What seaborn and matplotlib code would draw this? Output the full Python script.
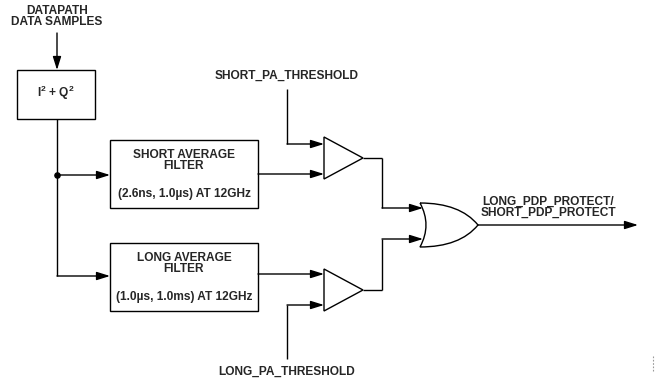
import numpy as np
import matplotlib
matplotlib.use("Agg")
import matplotlib.pyplot as plt
import seaborn as sns
from matplotlib.patches import Rectangle, Polygon, PathPatch
from matplotlib.path import Path

sns.set_style("white")
plt.rcParams['font.family'] = ['Liberation Sans', 'DejaVu Sans']
plt.rcParams['mathtext.fontset'] = 'custom'
plt.rcParams['mathtext.bf'] = 'Liberation Sans:bold'
plt.rcParams['mathtext.rm'] = 'Liberation Sans:bold'

# Text of the diagram
input_label = "DATAPATH\nDATA SAMPLES"
power_label = r"$\mathbf{I^2}$ + $\mathbf{Q^2}$"
filter_titles = ["SHORT AVERAGE\nFILTER", "LONG AVERAGE\nFILTER"]
filter_ranges = ["(2.6ns, 1.0\u00b5s) AT 12GHz", "(1.0\u00b5s, 1.0ms) AT 12GHz"]
threshold_labels = ["SHORT_PA_THRESHOLD", "LONG_PA_THRESHOLD"]
output_label = "LONG_PDP_PROTECT/\nSHORT_PDP_PROTECT"

# Layout (pixel coordinates, y down)
W, H = 655, 381
pw_box = (17, 70, 95, 119)
filt_boxes = [(110, 140, 258, 208), (110, 243, 258, 311)]
filt_in_y = [175, 276]
comps = [(324, 137, 363, 179), (324, 269, 363, 311)]
thr_x = 287
thr_y = [144, 305]
thr_end = [89, 359]
filt_out_y = [174, 274]
or_left, or_top, or_bot, or_tip = 420, 203, 247, 478
or_in_y = [208, 239]
out_x = 382

fig = plt.figure(figsize=(W / 100, H / 100), dpi=100)
ax = fig.add_axes([0, 0, 1, 1])
ax.set_xlim(0, W)
ax.set_ylim(H, 0)
ax.axis("off")

LW = 1.0
FS = 8.6


def line(xs, ys):
    ax.plot(xs, ys, color="black", lw=LW, solid_capstyle="butt",
            solid_joinstyle="miter")


def arrow(x0, y0, x1, y1):
    ax.annotate("", xy=(x1, y1), xytext=(x0, y0),
                arrowprops=dict(arrowstyle="-|>,head_length=0.8,head_width=0.25",
                                lw=LW, color="black", shrinkA=0, shrinkB=0,
                                mutation_scale=10))


def box(b):
    x0, y0, x1, y1 = b
    ax.add_patch(Rectangle((x0, y0), x1 - x0, y1 - y0, fill=False,
                           lw=LW, ec="black"))


def text(x, y, s, **kw):
    ax.text(x, y, s, ha="center", va="center", fontsize=FS,
            fontweight="bold", **kw)


# input
text(57, 16.5, input_label, linespacing=0.9)
arrow(57, 33, 57, 70)

# I^2 + Q^2
box(pw_box)
text(56, 93, power_label)

# splitter
line([57, 57], [pw_box[3], filt_in_y[1]])
ax.scatter([57], [filt_in_y[0]], s=14, color="black", zorder=5)

for i in range(2):
    b = filt_boxes[i]
    arrow(57, filt_in_y[i], b[0], filt_in_y[i])
    box(b)
    cx = (b[0] + b[2]) / 2
    text(cx, b[1] + 20.5, filter_titles[i], linespacing=0.95)
    text(cx, b[1] + 54, filter_ranges[i])

    # comparator
    c = comps[i]
    ax.add_patch(Polygon([(c[0], c[1]), (c[0], c[3]), (c[2], (c[1] + c[3]) / 2)],
                         closed=True, fill=False, lw=LW, ec="black",
                         joinstyle="miter"))
    arrow(b[2], filt_out_y[i], c[0], filt_out_y[i])
    line([thr_x, thr_x], [thr_end[i], thr_y[i]])
    arrow(thr_x, thr_y[i], c[0], thr_y[i])
    line([c[2], out_x], [(c[1] + c[3]) / 2] * 2)

text(thr_x, 76, threshold_labels[0])
text(thr_x, 372, threshold_labels[1])

# comparator outputs to OR gate
line([out_x, out_x], [(comps[0][1] + comps[0][3]) / 2, or_in_y[0]])
line([out_x, out_x], [(comps[1][1] + comps[1][3]) / 2, or_in_y[1]])
arrow(out_x, or_in_y[0], or_left + 3, or_in_y[0])
arrow(out_x, or_in_y[1], or_left + 3, or_in_y[1])

# OR gate
mid = (or_top + or_bot) / 2
verts = [(or_left, or_top), (or_left + 40, or_top), (or_tip, mid),
         (or_left + 40, or_bot), (or_left, or_bot),
         (or_left + 12, mid), (or_left, or_top)]
codes = [Path.MOVETO, Path.CURVE3, Path.CURVE3, Path.CURVE3, Path.CURVE3,
         Path.CURVE3, Path.CURVE3]
ax.add_patch(PathPatch(Path(verts, codes), fill=False, lw=LW, ec="black"))

# output
arrow(or_tip, mid, 638, mid)
text(548, 207.5, output_label, linespacing=0.85)

# small mark at bottom right edge
ax.plot([653, 653], [356, 372], color="0.6", lw=0.8, ls=(0, (1.5, 1.5)))

fig.savefig("out.png", dpi=100)
